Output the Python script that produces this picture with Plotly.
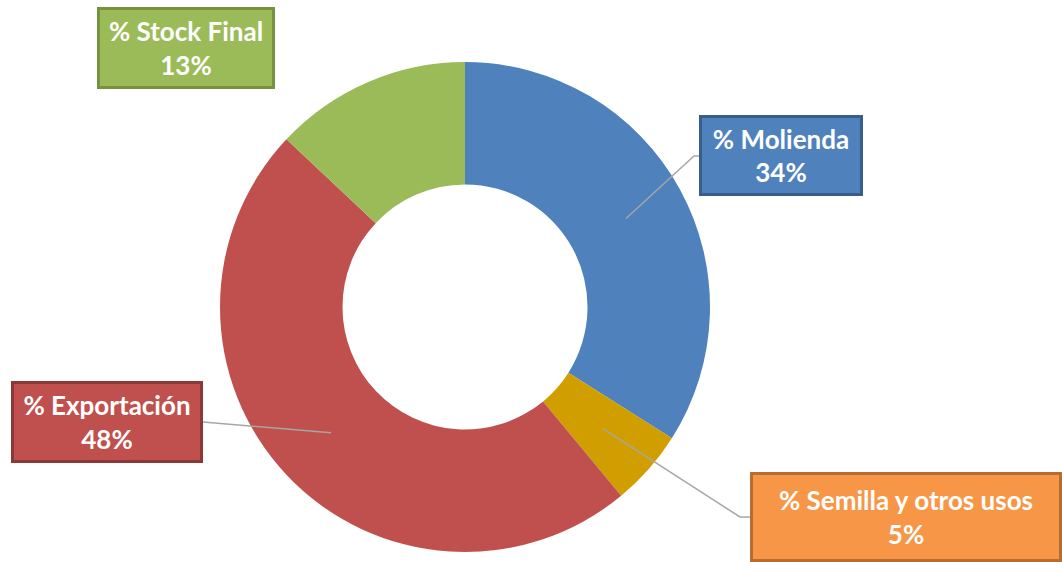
import math
import plotly.graph_objects as go

# ---- data ----
categories = ["% Molienda", "% Semilla y otros usos", "% Exportación", "% Stock Final"]
values = [34, 5, 48, 13]
colors = ["#4F81BD", "#D19E00", "#C0504D", "#9BBB59"]
box_fills = ["#4F81BD", "#F79646", "#C0504D", "#9BBB59"]
box_borders = ["#385D8A", "#B66D31", "#8C3836", "#76923C"]

W, H = 1062, 562
CX, CY, R_OUT = 465, 307, 245
HOLE = 0.5

def px(x):
    return x / W

def py(y):
    return 1 - y / H

fig = go.Figure()
fig.add_trace(go.Pie(
    labels=categories,
    values=values,
    marker=dict(colors=colors, line=dict(width=0)),
    hole=HOLE,
    sort=False,
    direction="clockwise",
    rotation=0,
    textinfo="none",
    hoverinfo="label+percent",
    showlegend=False,
    domain=dict(x=[px(CX - R_OUT), px(CX + R_OUT)],
                y=[py(CY + R_OUT), py(CY - R_OUT)]),
))

# label boxes (layout positions): center x, center y, width, height
boxes = [
    (781, 155.5, 164, 81),
    (905.5, 516.5, 312, 90),
    (107, 422, 192, 82),
    (186, 48, 178, 82),
]
total = sum(values)
cum = 0
mids = []
for v in values:
    mids.append((cum + v / 2) / total * 2 * math.pi)
    cum += v

r_mid = R_OUT * (1 + HOLE) / 2
anchors = [(CX + r_mid * math.sin(a), CY - r_mid * math.cos(a)) for a in mids]

# leader lines (elbow points are layout positions near each box)
leaders = {
    0: [(694, 156), (699, 156)],
    1: [(740, 517), (750, 517)],
    2: [(203, 422)],
}
for i, pts in leaders.items():
    path_pts = [anchors[i]] + pts
    d = "M " + " L ".join(f"{px(x):.5f},{py(y):.5f}" for x, y in path_pts)
    fig.add_shape(type="path", path=d, xref="paper", yref="paper",
                  line=dict(color="#A6A6A6", width=1.5), layer="above")

for i, (bx, by, bw, bh) in enumerate(boxes):
    fig.add_annotation(
        x=px(bx), y=py(by), xref="paper", yref="paper",
        xanchor="center", yanchor="middle",
        text=f"<b>{categories[i]}</b><br><b>{values[i]}%</b>",
        showarrow=False,
        font=dict(family="Lato", size=26, color="white"),
        bgcolor=box_fills[i], bordercolor=box_borders[i], borderwidth=3,
        borderpad=0, width=bw - 6, height=bh - 6, align="center",
    )

fig.update_layout(
    width=W, height=H,
    margin=dict(l=0, r=0, t=0, b=0),
    paper_bgcolor="white", plot_bgcolor="white",
)

fig.write_html("out.html", config={"displayModeBar": False})

# remove the default page margin so the figure sits at the window origin
with open("out.html", "r", encoding="utf-8") as f:
    html = f.read()
html = html.replace("<body>", '<body style="margin:0;padding:0;overflow:hidden">', 1)
with open("out.html", "w", encoding="utf-8") as f:
    f.write(html)
